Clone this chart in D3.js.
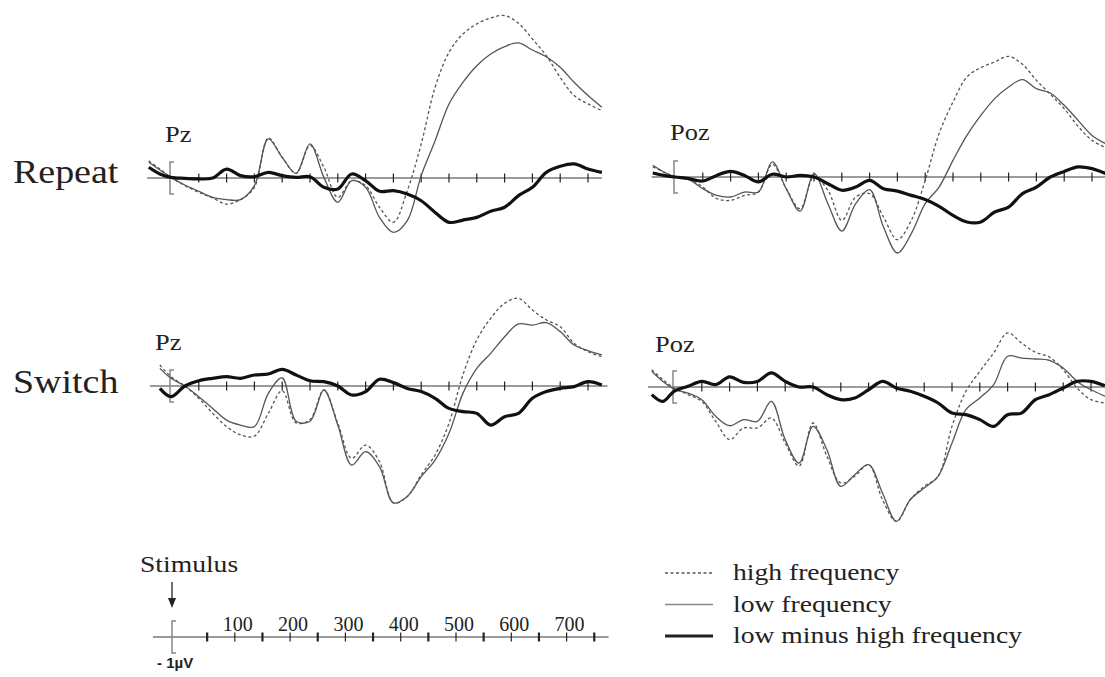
<!DOCTYPE html>
<html lang="en">
<head>
<meta charset="UTF-8">
<title>ERP Pz / Poz</title>
<script src="https://d3js.org/d3.v7.min.js"></script>
<style>
  body { margin: 0; background: #fff; }
  text { font-family: "Liberation Serif", "Times New Roman", serif; fill: #222; }
</style>
</head>
<body>
<svg width="1105" height="677"></svg>
<script>
// sample times in ms (stimulus at 0)
var times = [-40,-20,0,25,50,75,100,125,150,175,200,225,250,275,300,325,350,375,400,425,450,475,500,525,550,575,600,625,650,675,700,725,750,775];

// amplitudes in microvolts, positive up
var repeatPzHigh = [1.08,0.56,0.04,-0.48,-0.90,-1.25,-1.63,-1.35,-0.58,2.50,1.29,0.29,2.02,0.67,-1.21,-0.17,-0.48,-1.83,-2.77,-0.79,2.13,5.67,7.85,9.00,9.63,10.00,10.15,9.67,8.69,7.65,6.29,5.15,4.63,4.21];
var repeatPzLow  = [0.98,0.50,0.04,-0.44,-0.83,-1.21,-1.35,-1.35,-0.48,2.44,1.29,0.29,2.13,0.04,-1.52,-0.17,-0.58,-2.46,-3.40,-2.67,0.15,2.33,4.63,5.98,7.02,7.75,8.21,8.44,8.00,7.58,6.92,5.98,5.15,4.42];
var repeatPzDiff = [0.67,0.25,0.04,-0.02,-0.06,0,0.56,0.15,0.08,0.35,0.15,0.04,0.08,-0.58,-0.69,0.25,-0.17,-0.83,-0.79,-1.00,-1.42,-2.15,-2.77,-2.63,-2.46,-2.08,-1.83,-1.10,-0.58,0.35,0.73,0.88,0.56,0.35];

var repeatPozHigh = [0.63,0.31,0,-0.10,-0.63,-1.35,-1.46,-1.15,-0.94,0.79,-0.73,-1.98,0,-0.83,-2.71,-1.25,-1.04,-2.50,-3.92,-2.71,-0.21,2.71,4.69,6.25,6.83,7.19,7.54,7.04,6.04,5.17,4.27,3.17,2.29,1.83];
var repeatPozLow  = [0.73,0.31,0,-0.17,-0.73,-1.15,-1.25,-0.94,-0.94,0.94,-0.73,-2.13,0.21,-1.67,-3.38,-1.67,-0.79,-3.13,-4.75,-3.54,-1.67,-0.63,1.04,2.60,3.85,4.90,5.63,6.08,5.52,5.25,4.48,3.54,2.60,2.08];
var repeatPozDiff = [0.25,0.10,0,-0.10,-0.25,0.10,0.35,0.10,-0.31,0.17,0,0.10,0,-0.42,-0.83,-0.63,-0.21,-0.73,-0.88,-1.15,-1.40,-1.83,-2.40,-2.81,-2.81,-2.19,-1.88,-1.04,-0.63,0,0.35,0.63,0.52,0.21];

var switchPzHigh = [null,1.31,0.58,0,-0.77,-1.71,-2.54,-3.06,-3.13,-1.71,-0.30,-2.30,-2.10,-0.25,-2.33,-4.52,-3.69,-4.73,-7.30,-6.90,-5.56,-4.31,-2.33,0.69,2.88,4.23,5.17,5.48,4.75,4.13,3.71,2.67,2.15,1.83];
var switchPzLow  = [null,1.10,0.48,0,-0.67,-1.40,-2.13,-2.44,-2.54,-0.46,0.50,-2.20,-2.20,-0.25,-2.44,-4.94,-4.10,-5.04,-7.30,-6.90,-5.67,-4.63,-2.96,-0.46,1.10,2.04,3.08,3.88,3.81,3.96,3.40,2.56,2.21,1.94];
var switchPzDiff = [null,-0.15,-0.67,0,0.33,0.48,0.58,0.48,0.69,0.75,1.04,0.69,0.33,0.27,0,-0.56,-0.35,0.42,0.21,-0.15,-0.35,-0.77,-1.40,-1.60,-1.71,-2.44,-1.92,-1.71,-0.77,-0.35,-0.15,-0.04,0.27,0.06];

var switchPozHigh = [1.08,0.46,-0.06,-0.48,-0.90,-2.15,-3.29,-2.56,-2.56,-1.94,-3.50,-4.94,-2.25,-4.33,-6.00,-5.58,-4.85,-7.04,-8.40,-7.04,-6.21,-5.58,-2.46,-0.27,0.98,2.13,3.38,2.75,2.17,1.88,1.08,-0.06,-0.79,-1.00];
var switchPozLow  = [0.98,0.35,-0.13,-0.38,-0.79,-1.83,-2.42,-2.04,-2.15,-0.90,-3.29,-4.75,-2.46,-3.92,-6.21,-5.48,-4.85,-6.63,-8.40,-7.04,-6.31,-5.58,-3.50,-1.42,-0.69,0.15,1.92,1.81,1.75,1.67,1.19,0.35,-0.17,-0.58];
var switchPozDiff = [-0.48,-0.90,-0.27,0.04,0.35,0.15,0.63,0.29,0.35,0.88,0.35,0,0,-0.48,-0.79,-0.69,-0.17,0.35,-0.06,-0.27,-0.58,-1.00,-1.63,-1.73,-2.04,-2.46,-1.73,-1.63,-0.79,-0.48,-0.06,0.35,0.35,0.08];

var tickTimes = d3.range(50, 751, 50);
var scaleLabels = [100, 200, 300, 400, 500, 600, 700];
var legendItems = ["high frequency", "low frequency", "low minus high frequency"];

var svg = d3.select("svg");
var pxPerMs = 0.556;   // horizontal scale shared by all panels
var pxPerUv = 16;      // 1 microvolt in pixels
var stretch = 1.15;    // the original lettering is slightly wide

function label(x, y, str, size) {
  return svg.append("text")
    .attr("transform", "translate(" + x + "," + y + ") scale(" + stretch + ",1)")
    .style("font-size", size + "px")
    .text(str);
}

// zero-line with ticks and the 1uV bracket at stimulus onset
function baseAxis(g, x, y0, t0, t1, bx, boldOdd) {
  g.append("line")
    .attr("x1", x(t0)).attr("x2", x(t1))
    .attr("y1", y0).attr("y2", y0)
    .attr("stroke", "#7a7a7a").attr("stroke-width", 1.6);
  g.selectAll(".tick").data(tickTimes).enter().append("line")
    .attr("x1", d => x(d)).attr("x2", d => x(d))
    .attr("y1", y0 - 4.5).attr("y2", y0 + 4.5)
    .attr("stroke", "#222")
    .attr("stroke-width", d => (boldOdd && d % 100) ? 2.2 : 1.2);
  g.append("path")
    .attr("d", "M" + (bx + 4) + "," + (y0 - 16) + "H" + bx + "V" + (y0 + 16) + "H" + (bx + 4))
    .attr("fill", "none").attr("stroke", "#888").attr("stroke-width", 1.5);
}

var panels = [
  {site: "Pz",  x0: 171, y0: 178, t0: -43, t1: 775, lx: 165, ly: 142, high: repeatPzHigh,  low: repeatPzLow,  diff: repeatPzDiff},
  {site: "Poz", x0: 675, y0: 177, t0: -42, t1: 790, lx: 670, ly: 140, high: repeatPozHigh, low: repeatPozLow, diff: repeatPozDiff},
  {site: "Pz",  x0: 171, y0: 386, t0: -38, t1: 785, lx: 155, ly: 350, high: switchPzHigh,  low: switchPzLow,  diff: switchPzDiff},
  {site: "Poz", x0: 674, y0: 387, t0: -47, t1: 790, lx: 655, ly: 352, high: switchPozHigh, low: switchPozLow, diff: switchPozDiff}
];

panels.forEach(function(p) {
  var x = d3.scaleLinear().domain([0, 100]).range([p.x0, p.x0 + 100 * pxPerMs]);
  var y = d3.scaleLinear().domain([-1, 1]).range([p.y0 + pxPerUv, p.y0 - pxPerUv]);
  var g = svg.append("g");

  baseAxis(g, x, p.y0, p.t0, p.t1, p.x0 - 1, false);

  var line = d3.line()
    .defined(d => d[1] != null)
    .x(d => x(d[0]))
    .y(d => y(d[1]))
    .curve(d3.curveCatmullRom.alpha(0.5));

  function pts(vals) { return times.map((t, i) => [t, vals[i]]); }

  g.append("path").attr("d", line(pts(p.high)))
    .attr("fill", "none").attr("stroke", "#555").attr("stroke-width", 1.3)
    .attr("stroke-dasharray", "3,2.5");
  g.append("path").attr("d", line(pts(p.low)))
    .attr("fill", "none").attr("stroke", "#555").attr("stroke-width", 1.3);
  g.append("path").attr("d", line(pts(p.diff)))
    .attr("fill", "none").attr("stroke", "#111").attr("stroke-width", 3.2)
    .attr("stroke-linejoin", "round");

  label(p.lx, p.ly, p.site, 23);
});

label(13, 183, "Repeat", 33);
label(13, 393, "Switch", 33);

// time scale at the bottom
var sx = d3.scaleLinear().domain([0, 100]).range([179.5, 179.5 + 100 * 0.553]);
var sg = svg.append("g");
baseAxis(sg, sx, 637, -48, 776, 172, true);
sg.selectAll(".lab").data(scaleLabels).enter().append("text")
  .attr("x", d => sx(d) + 3).attr("y", 631)
  .attr("text-anchor", "middle")
  .style("font-size", "20px")
  .text(d => d);
sg.append("text")
  .attr("x", 157).attr("y", 668)
  .style("font-family", "'Liberation Sans', Arial, sans-serif")
  .style("font-weight", "bold").style("font-size", "15px")
  .text("- 1µV");

label(140, 572, "Stimulus", 24);
sg.append("line").attr("x1", 172).attr("x2", 172).attr("y1", 582).attr("y2", 600)
  .attr("stroke", "#222").attr("stroke-width", 1.3);
sg.append("path").attr("d", "M168,598 L176,598 L172,608 Z").attr("fill", "#222");

// legend
var lg = svg.append("g");
var styles = [
  {w: 1.3, c: "#555", dash: "3,2.5"},
  {w: 1.5, c: "#888", dash: null},
  {w: 3.2, c: "#222", dash: null}
];
legendItems.forEach(function(name, i) {
  var yy = 573 + i * 31.5;
  lg.append("line").attr("x1", 665).attr("x2", 713).attr("y1", yy).attr("y2", yy)
    .attr("stroke", styles[i].c).attr("stroke-width", styles[i].w)
    .attr("stroke-dasharray", styles[i].dash);
  label(733, yy + 7, name, 24);
});
</script>
</body>
</html>
